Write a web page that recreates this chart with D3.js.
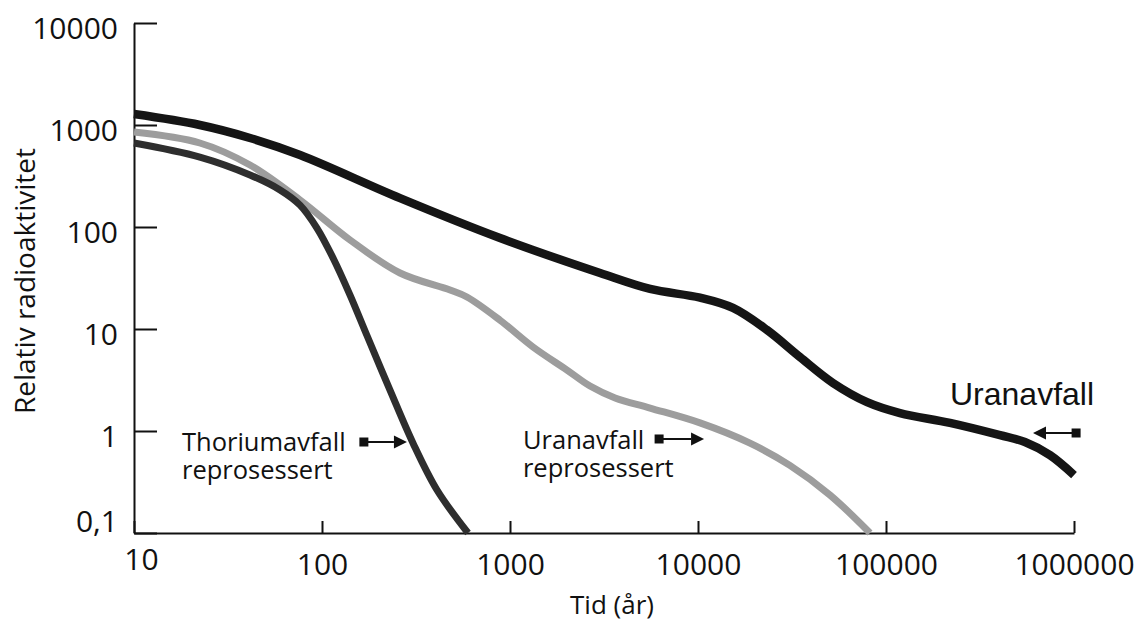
<!DOCTYPE html>
<html>
<head>
<meta charset="utf-8">
<script src="https://cdn.jsdelivr.net/npm/d3@7"></script>
<style>
  html, body { margin: 0; padding: 0; background: #fff; }
  svg { display: block; }
  .lbl { font-family: "Open Sans", "Noto Sans", sans-serif; fill: #111; }
</style>
</head>
<body>
<svg id="chart" width="1140" height="621"></svg>
<script>
// ---- data ----
const xTicks = [10, 100, 1000, 10000, 100000, 1000000];
const yTicks = [0.1, 1, 10, 100, 1000, 10000];
const yTickLabels = ["0,1", "1", "10", "100", "1000", "10000"];

const uranTime  = [10, 22.4, 41.4, 76.4, 260, 885, 3013, 5560, 10250, 15350, 23300, 34900, 52200, 79300, 118700, 219000, 404000, 548000, 745000, 1000000];
const uranValue = [1280, 1000, 746, 508, 192, 78, 35.4, 24.7, 20.3, 16.1, 9.77, 5.3, 2.96, 1.92, 1.5, 1.2, 0.91, 0.78, 0.58, 0.37];

const uranRepTime  = [10, 22.4, 41.4, 76.4, 141, 260, 480, 590, 885, 1325, 2010, 2665, 3623, 5560, 10250, 18900, 30800, 50300, 82200];
const uranRepValue = [853, 666, 405, 184, 74.6, 35.4, 24.1, 20.6, 12.2, 6.67, 3.96, 2.76, 2.11, 1.68, 1.2, 0.76, 0.46, 0.236, 0.1];

const thorTime  = [10, 22.4, 41.4, 59.8, 76.4, 94.0, 114.5, 141, 173, 230, 305, 409, 598];
const thorValue = [666, 485, 324, 231, 164, 97.7, 49.7, 21.5, 8.73, 2.52, 0.76, 0.264, 0.1];

// ---- layout ----
const svg = d3.select("#chart");
const x = d3.scaleLog().domain([10, 1000000]).range([134, 1074]);
const y = d3.scaleLog().domain([0.1, 10000]).range([533, 23]);

// axes
const yAxis = d3.axisLeft(y)
  .tickValues(yTicks)
  .tickSizeInner(-23)
  .tickSizeOuter(0)
  .tickPadding(16)
  .tickFormat((d, i) => yTickLabels[i]);

const gy = svg.append("g").attr("transform", "translate(134,0)").call(yAxis);
gy.select(".domain").attr("stroke", "#111").attr("stroke-width", 2);
gy.selectAll(".tick line").attr("stroke", "#111").attr("stroke-width", 2);
gy.selectAll(".tick text")
  .attr("class", "lbl")
  .attr("font-size", 30)
  .attr("dy", d => d === 0.1 ? "-0.05em" : "0.5em")
  .attr("fill", "#111");

const xAxis = d3.axisBottom(x)
  .tickValues(xTicks)
  .tickSizeInner(-12)
  .tickSizeOuter(0)
  .tickPadding(0)
  .tickFormat(d3.format("d"));

const gx = svg.append("g").attr("transform", "translate(0,533)").call(xAxis);
gx.select(".domain").attr("stroke", "#111").attr("stroke-width", 2);
gx.selectAll(".tick line").attr("stroke", "#111").attr("stroke-width", 2);
gx.selectAll(".tick text")
  .attr("class", "lbl")
  .attr("font-size", 30)
  .attr("dy", null)
  .attr("y", d => d === 10 ? 37 : 42)
  .attr("x", d => d === 10 ? 7 : 0)
  .attr("fill", "#111");

// axis titles
svg.append("text").attr("class", "lbl")
  .attr("font-size", 28)
  .attr("text-anchor", "middle")
  .attr("transform", "translate(35,281) rotate(-90)")
  .text("Relativ radioaktivitet");

svg.append("text").attr("class", "lbl")
  .attr("font-size", 26)
  .attr("text-anchor", "middle")
  .attr("x", 612).attr("y", 614)
  .text("Tid (år)");

// lines
const line = d3.line()
  .x(d => x(d[0]))
  .y(d => y(d[1]))
  .curve(d3.curveCatmullRom.alpha(0.5));

const zip = (a, b) => a.map((v, i) => [v, b[i]]);

svg.append("path").datum(zip(uranRepTime, uranRepValue))
  .attr("d", line).attr("fill", "none")
  .attr("stroke", "#9d9d9d").attr("stroke-width", 7);

svg.append("path").datum(zip(thorTime, thorValue))
  .attr("d", line).attr("fill", "none")
  .attr("stroke", "#2e2e2e").attr("stroke-width", 7);

svg.append("path").datum(zip(uranTime, uranValue))
  .attr("d", line).attr("fill", "none")
  .attr("stroke", "#151515").attr("stroke-width", 8.5);

// annotations (positions given in data space)
const annotations = [
  { lines: ["Thoriumavfall", "reprosessert"], tx: 18.0, ty: 0.637, sq: [167, 0.78], tip: [283, 0.78], font: '"Open Sans", sans-serif', size: 25.5 },
  { lines: ["Uranavfall", "reprosessert"], tx: 1172, ty: 0.667, sq: [6210, 0.835], tip: [10770, 0.835], font: '"Open Sans", sans-serif', size: 25.5 },
  { lines: ["Uranavfall"], tx: 219000, ty: 1.80, sq: [1026000, 0.956], tip: [605000, 0.956], font: '"Liberation Sans", Arial, sans-serif', size: 32 }
];

annotations.forEach(a => {
  a.lines.forEach((s, i) => {
    svg.append("text")
      .attr("x", x(a.tx)).attr("y", y(a.ty) + i * 28)
      .attr("font-family", a.font)
      .attr("font-size", a.size)
      .attr("fill", "#111")
      .text(s);
  });

  const sx = x(a.sq[0]), sy = y(a.sq[1]);
  const ex = x(a.tip[0]);
  const dir = ex > sx ? 1 : -1;
  const head = 13;
  svg.append("rect")
    .attr("x", sx - 4.5).attr("y", sy - 4.5)
    .attr("width", 9).attr("height", 9)
    .attr("fill", "#111");
  svg.append("line")
    .attr("x1", sx).attr("y1", sy)
    .attr("x2", ex - dir * head).attr("y2", sy)
    .attr("stroke", "#111").attr("stroke-width", 2);
  svg.append("path")
    .attr("d", `M${ex},${sy} L${ex - dir * head},${sy - 6.5} L${ex - dir * head},${sy + 6.5} Z`)
    .attr("fill", "#111");
});
</script>
</body>
</html>
